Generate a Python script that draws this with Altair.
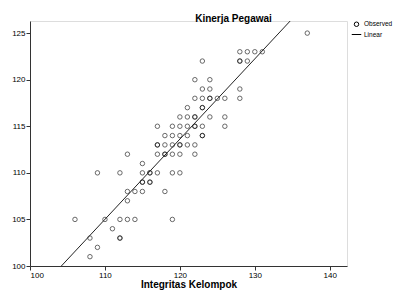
import altair as alt
import pandas as pd

# Integritas Kelompok (x) and Kinerja Pegawai (y)
x_vals = [137,
          128, 129, 130, 131,
          123, 128, 128, 129,
          122, 124,
          123, 124, 128,
          122, 123, 124, 124, 125, 126, 128,
          121, 123, 123,
          120, 121, 122, 122, 124, 126,
          117, 119, 120, 121, 122, 122, 123, 126,
          118, 119, 120, 121, 123, 123,
          117, 117, 118, 119, 120, 120, 121, 122,
          113, 117, 118, 118, 119, 120, 122,
          115,
          109, 112, 115, 116, 116, 117, 119, 120,
          115, 115, 116, 116,
          113, 114, 115, 118,
          113,
          106, 110, 112, 113, 114, 119,
          111,
          108, 112, 112,
          109,
          108]
y_vals = ([125] + [123] * 4 + [122] * 4 + [120] * 2 + [119] * 3 + [118] * 7 +
          [117] * 3 + [116] * 6 + [115] * 8 + [114] * 6 + [113] * 8 + [112] * 7 +
          [111] * 1 + [110] * 8 + [109] * 4 + [108] * 4 + [107] * 1 + [105] * 6 +
          [104] * 1 + [103] * 3 + [102] * 1 + [101] * 1)

x_ticks = [100, 110, 120, 130, 140]
y_ticks = [100, 105, 110, 115, 120, 125]
series_names = ["Observed", "Linear"]

df = pd.DataFrame({"x": x_vals, "y": y_vals, "series": "Observed"})

font = "Liberation Sans"

xscale = alt.Scale(domain=[100, 142.3], nice=False, zero=False)
yscale = alt.Scale(domain=[100, 126.3], nice=False, zero=False)

xaxis = alt.Axis(values=x_ticks, title="Integritas Kelompok", grid=False,
                 labelFontSize=8, labelFont=font, labelColor="#000",
                 titleFont=font, titleFontSize=10, titleFontWeight="bold",
                 titleColor="#000", titlePadding=0, tickSize=4,
                 tickColor="#333", domainColor="#333", labelPadding=1)
yaxis = alt.Axis(values=y_ticks, title=None, grid=False,
                 labelFontSize=8, labelFont=font, labelColor="#000",
                 tickSize=4, tickColor="#333", domainColor="#333", labelPadding=1)

legend = alt.Legend(title=None, orient="none", legendX=321, legendY=0,
                    labelFont=font, labelFontSize=6.5, labelColor="#000",
                    labelOffset=2, rowPadding=-2, padding=0,
                    symbolStrokeColor="#000", symbolStrokeWidth=1,
                    symbolOpacity=1)

base = alt.Chart(df)

points = base.mark_point(filled=False, strokeWidth=0.9, opacity=0.65, color="#000").encode(
    x=alt.X("x:Q", scale=xscale, axis=xaxis),
    y=alt.Y("y:Q", scale=yscale, axis=yaxis),
    shape=alt.Shape("series:N",
                    scale=alt.Scale(domain=series_names, range=["circle", "stroke"]),
                    legend=legend),
    size=alt.Size("series:N",
                  scale=alt.Scale(domain=series_names, range=[20, 90]),
                  legend=legend),
)

line = base.transform_regression("x", "y", extent=[100, 145]).mark_line(
    color="#222", strokeWidth=1, clip=True
).encode(
    x=alt.X("x:Q", scale=xscale, axis=xaxis),
    y=alt.Y("y:Q", scale=yscale, axis=yaxis),
)

chart = alt.layer(points, line).properties(
    width=317,
    height=245,
    title=alt.TitleParams("Kinerja Pegawai", font=font, fontSize=10, fontWeight="bold",
                          color="#000", anchor="middle", dx=45, dy=4, offset=1),
    autosize=alt.AutoSizeParams(type="none"),
    padding={"left": 22, "top": 13, "right": 46, "bottom": 24},
).configure_view(stroke="#555", strokeWidth=1).configure(background="white")

chart.save("out.html", embed_options={"renderer": "svg", "actions": False})
